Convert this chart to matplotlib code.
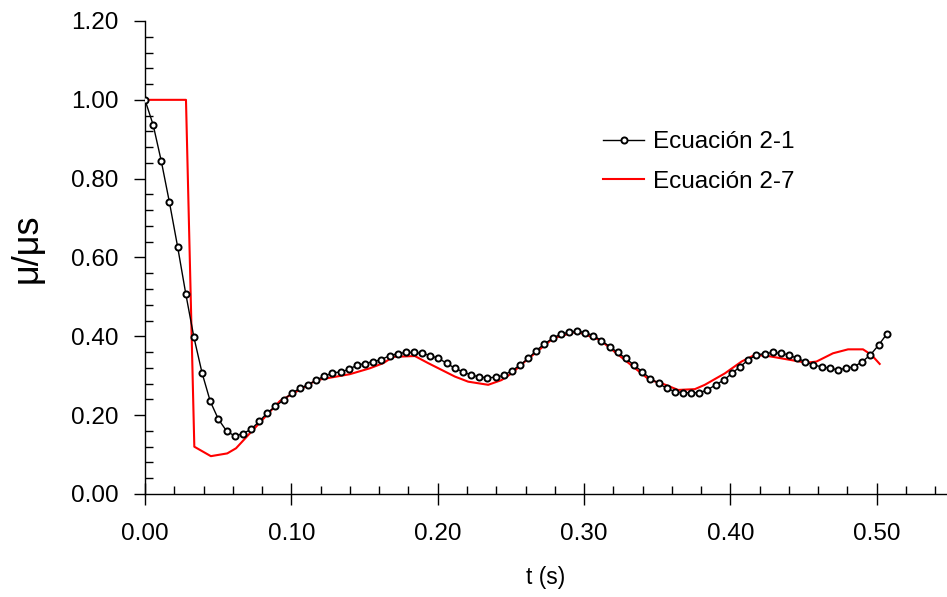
import matplotlib
matplotlib.use("Agg")
import matplotlib.pyplot as plt
from matplotlib.ticker import MultipleLocator, FormatStrFormatter

plt.rcParams['font.family'] = ['Liberation Sans', 'DejaVu Sans']

###############################################################################
# Ecuación 2-1: sampled friction ratio (one point per time step)
t_ec21 = [
    0.0000, 0.0056, 0.0111, 0.0167, 0.0223, 0.0279, 0.0334, 0.0390, 0.0446, 0.0501,
    0.0557, 0.0613, 0.0668, 0.0724, 0.0780, 0.0836, 0.0891, 0.0947, 0.1003, 0.1058,
    0.1114, 0.1170, 0.1225, 0.1281, 0.1337, 0.1393, 0.1448, 0.1504, 0.1560, 0.1615,
    0.1671, 0.1727, 0.1782, 0.1838, 0.1894, 0.1950, 0.2005, 0.2061, 0.2117, 0.2172,
    0.2228, 0.2284, 0.2339, 0.2395, 0.2451, 0.2507, 0.2562, 0.2618, 0.2674, 0.2729,
    0.2785, 0.2841, 0.2896, 0.2952, 0.3008, 0.3064, 0.3119, 0.3175, 0.3231, 0.3286,
    0.3342, 0.3398, 0.3453, 0.3509, 0.3565, 0.3621, 0.3676, 0.3732, 0.3788, 0.3843,
    0.3899, 0.3955, 0.4010, 0.4066, 0.4122, 0.4178, 0.4233, 0.4289, 0.4345, 0.4400,
    0.4456, 0.4512, 0.4567, 0.4623, 0.4679, 0.4735, 0.4790, 0.4846, 0.4902, 0.4957,
    0.5013, 0.5069,
]
mu_ec21 = [
    1.000, 0.936, 0.845, 0.740, 0.627, 0.507, 0.398, 0.307, 0.235, 0.190,
    0.160, 0.147, 0.153, 0.164, 0.184, 0.206, 0.222, 0.239, 0.256, 0.268,
    0.277, 0.289, 0.299, 0.307, 0.310, 0.316, 0.327, 0.331, 0.336, 0.341,
    0.351, 0.356, 0.359, 0.359, 0.357, 0.351, 0.344, 0.332, 0.319, 0.310,
    0.302, 0.297, 0.295, 0.296, 0.301, 0.313, 0.327, 0.344, 0.364, 0.381,
    0.395, 0.406, 0.410, 0.414, 0.409, 0.402, 0.389, 0.374, 0.359, 0.344,
    0.327, 0.310, 0.293, 0.281, 0.268, 0.260, 0.257, 0.257, 0.257, 0.264,
    0.277, 0.289, 0.306, 0.323, 0.340, 0.353, 0.356, 0.359, 0.357, 0.353,
    0.344, 0.336, 0.327, 0.323, 0.319, 0.315, 0.319, 0.323, 0.336, 0.353,
    0.378, 0.406,
]

# Ecuación 2-7
t_ec27 = [
    0.0000, 0.0280, 0.0337, 0.0450, 0.0562, 0.0622, 0.0854, 0.0922, 0.1173,
    0.1400, 0.1537, 0.1628, 0.1696, 0.1844, 0.1935, 0.2117, 0.2208, 0.2345,
    0.2436, 0.2505, 0.2596, 0.2789, 0.2949, 0.3108, 0.3449, 0.3529, 0.3643,
    0.3757, 0.3825, 0.3962, 0.4076, 0.4167, 0.4258, 0.4520, 0.4588, 0.4701,
    0.4804, 0.4906, 0.4964, 0.5020,
]
mu_ec27 = [
    1.000, 1.000, 0.120, 0.096, 0.103, 0.116, 0.209, 0.236, 0.289,
    0.304, 0.319, 0.332, 0.348, 0.350, 0.332, 0.298, 0.285, 0.277,
    0.289, 0.306, 0.336, 0.395, 0.412, 0.391, 0.289, 0.281, 0.264,
    0.266, 0.277, 0.306, 0.336, 0.353, 0.350, 0.333, 0.336, 0.357,
    0.367, 0.367, 0.353, 0.330,
]

###############################################################################
fig = plt.figure(figsize=(9.47, 5.97), dpi=100)
ax = fig.add_axes([145/947, 103/597, 802/947, 473/597])

ax.plot(t_ec21, mu_ec21, color="black", lw=1.0, marker="o", ms=4.4,
        mfc="white", mec="black", mew=1.4, label="Ecuación 2-1", zorder=3)
ax.plot(t_ec27, mu_ec27, color="#ff0000", lw=1.5, label="Ecuación 2-7", zorder=2)

ax.set_xlim(0, 0.548)
ax.set_ylim(0, 1.2)

ax.xaxis.set_major_locator(MultipleLocator(0.1))
ax.xaxis.set_minor_locator(MultipleLocator(0.02))
ax.yaxis.set_major_locator(MultipleLocator(0.2))
ax.yaxis.set_minor_locator(MultipleLocator(0.04))
ax.xaxis.set_major_formatter(FormatStrFormatter("%.2f"))
ax.yaxis.set_major_formatter(FormatStrFormatter("%.2f"))

for side in ("top", "right"):
    ax.spines[side].set_visible(False)
for side in ("left", "bottom"):
    ax.spines[side].set_linewidth(1.0)

ax.tick_params(axis="x", which="major", direction="inout", length=16, width=1.0,
               labelsize=17.5, pad=13)
ax.tick_params(axis="y", which="major", direction="out", length=8, width=1.0,
               labelsize=17.5, pad=11)
ax.tick_params(which="minor", direction="in", length=6, width=1.0)

ax.set_xlabel("t (s)", fontsize=16.5, labelpad=15)
ax.set_ylabel("μ/μs", fontsize=26, labelpad=12)
ax.yaxis.set_label_coords(-0.125, 0.52)

ax.legend(loc="center left", bbox_to_anchor=(603/947, 1 - 162/597),
          bbox_transform=fig.transFigure, frameon=False, fontsize=17.5,
          numpoints=1, handlelength=1.7, handletextpad=0.35, labelspacing=0.7,
          borderpad=0, borderaxespad=0)

fig.savefig("out.png", dpi=100)
